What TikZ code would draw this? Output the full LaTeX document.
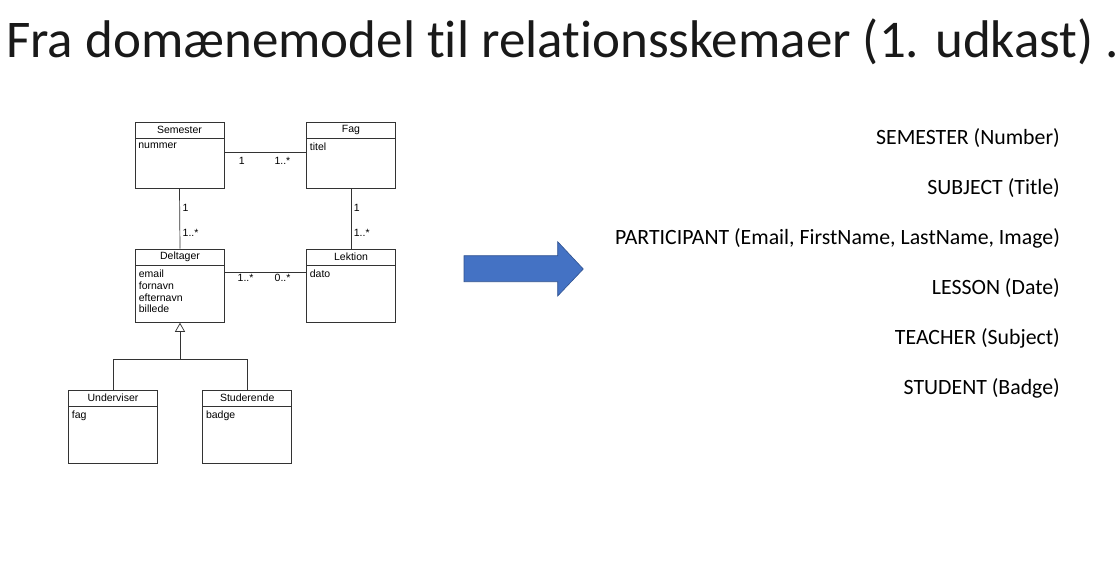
\documentclass[tikz,border=0pt]{standalone}
\usepackage{fontspec}
\setmainfont{Carlito}[Ligatures=NoCommon]
\newfontfamily\umlfont{Liberation Sans}
\usetikzlibrary{arrows.meta}

\definecolor{arrowblue}{RGB}{68,114,196}
\definecolor{arrowedge}{RGB}{47,82,143}

\tikzset{
  umlhead/.style={draw=black!80,line width=0.7pt,minimum width=89pt,minimum height=16pt,inner sep=0pt,font=\umlfont\fontsize{10.5}{12}\selectfont},
  umlbody/.style={draw=black!80,line width=0.7pt,minimum width=89pt,minimum height=#1,inner sep=0pt,anchor=north},
  umlbody/.default=56.7pt,
  umlattr/.style={anchor=north west,inner xsep=3.5pt,inner ysep=4.5pt,align=left,font=\umlfont\fontsize{10.5}{11.7}\selectfont},
  mult/.style={inner sep=1.5pt,font=\umlfont\fontsize{10.5}{12}\selectfont},
  assoc/.style={draw=black!80,line width=0.7pt},
  schema/.style={anchor=base east,inner sep=0pt,font=\fontsize{21.8}{26}\selectfont}
}

\begin{document}
\begin{tikzpicture}[x=1pt,y=-1pt]
\useasboundingbox (0,0) rectangle (1117,568);

\node[anchor=base west,inner sep=0pt,text=black!90,font=\fontsize{53}{60}\selectfont] (title) at (6,57) {Fra domænemodel til relationsskemaer (1. udkast) ..};

% classes
\node[umlhead] (semH) at (179.5,130) {\raisebox{-1.5pt}{Semester}};
\node[umlbody=49.5pt] (semB) at (semH.south) {};
\node[umlattr] (semA) at (semB.north west) {nummer};

\node[umlhead] (fagH) at (351,130) {\raisebox{-1.5pt}{Fag}};
\node[umlbody=49.5pt] (fagB) at (fagH.south) {};
\node[umlattr] (fagA) at (fagB.north west) {titel};

\node[umlhead] (delH) at (180,257) {\raisebox{-1.5pt}{Deltager}};
\node[umlbody] (delB) at (delH.south) {};
\node[umlattr] (delA) at (delB.north west) {email\\fornavn\\efternavn\\billede};

\node[umlhead] (lekH) at (351,257) {\raisebox{-1.5pt}{Lektion}};
\node[umlbody] (lekB) at (lekH.south) {};
\node[umlattr] (lekA) at (lekB.north west) {dato};

\node[umlhead] (undH) at (113,398) {\raisebox{-1.5pt}{Underviser}};
\node[umlbody] (undB) at (undH.south) {};
\node[umlattr] (undA) at (undB.north west) {fag};

\node[umlhead] (stuH) at (247.2,398) {\raisebox{-1.5pt}{Studerende}};
\node[umlbody] (stuB) at (stuH.south) {};
\node[umlattr] (stuA) at (stuB.north west) {badge};

% associations
\draw[assoc] ([yshift=-14pt]semB.north east) -- node[mult,below=3pt,pos=0.213] (m1) {1} node[mult,below=3pt,pos=0.71] (m2) {1..*} ([yshift=-14pt]fagB.north west);
\draw[assoc] (semB.south) -- node[mult,right=1pt,pos=0.317] (m3) {1} node[mult,right=1pt,pos=0.74] (m4) {1..*} (delH.north);
\draw[assoc] (fagB.south) -- node[mult,right=1pt,pos=0.317] (m5) {1} node[mult,right=1pt,pos=0.74] (m6) {1..*} (lekH.north);
\draw[assoc] ([yshift=-6.7pt]delB.north east) -- node[mult,below=0pt,pos=0.255] (m7) {1..*} node[mult,below=0pt,pos=0.71] (m8) {0..*} ([yshift=-6.7pt]lekB.north west);

% generalisation
\coordinate (gen) at (180,359.3);
\draw[assoc] (undH.north) |- (gen) -| (stuH.north);
\draw[assoc,-{Triangle[open,length=9pt,width=10pt]}] (gen) -- (delB.south);

% arrow
\filldraw[fill=arrowblue,draw=arrowedge,line width=0.6pt] (464,255.7) -- (557.7,255.7) -- (557.7,241.7) -- (583.3,269) -- (557.7,296) -- (557.7,281.7) -- (464,281.7) -- cycle;

% schemas
\foreach \txt [count=\i] in {SEMESTER (Number),SUBJECT (Title),{PARTICIPANT (Email, FirstName, LastName, Image)},LESSON (Date),TEACHER (Subject),STUDENT (Badge)}
\node[schema] (s\i) at (1060,94+50*\i) {\txt};

\end{tikzpicture}
\end{document}
